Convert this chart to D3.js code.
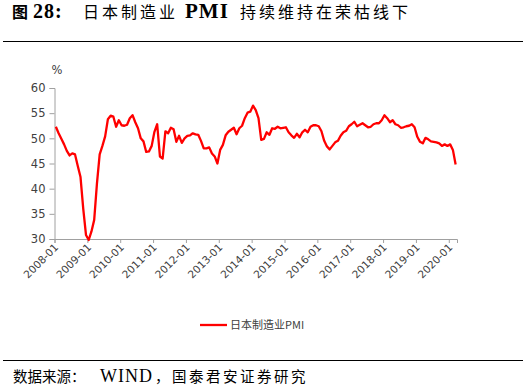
<!DOCTYPE html>
<html>
<head>
<meta charset="utf-8">
<script src="https://cdn.jsdelivr.net/npm/d3@7/dist/d3.min.js"></script>
<style>
  body { margin: 0; background: #fff; }
  svg { display: block; font-family: "Liberation Sans", Arial, sans-serif; }
</style>
</head>
<body>
<div id="chart"></div>
<script>
// monthly Japan manufacturing PMI, 2008-01 .. 2020-03
const PMI_VALUES = [
  52.3, 51.0, 49.9, 48.8, 47.5, 46.6, 47.0, 46.8, 44.5, 42.3, 36.0, 30.8,
  29.8, 31.5, 33.8, 41.0, 46.8, 48.5, 50.4, 53.8, 54.5, 54.3, 52.3, 53.6,
  52.6, 52.5, 52.7, 54.0, 54.6, 53.2, 52.0, 50.0, 49.4, 47.3, 47.4, 48.5,
  51.3, 52.8, 46.4, 46.0, 51.4, 51.0, 52.1, 51.8, 49.3, 50.5, 49.1, 50.0,
  50.5, 50.6, 51.0, 50.8, 50.7, 49.5, 48.0, 48.0, 48.2, 47.0, 46.4, 45.0,
  47.7, 48.7, 50.6, 51.3, 51.7, 52.1, 50.8, 52.0, 52.5, 54.0, 55.1, 55.3,
  56.5, 55.6, 54.0, 49.7, 49.9, 51.2, 50.7, 52.0, 51.9, 52.3, 52.0, 52.1,
  52.2, 51.2, 50.6, 50.1, 50.9, 50.2, 51.2, 51.7, 51.2, 52.3, 52.6, 52.6,
  52.4, 51.4, 49.5, 48.4, 47.8, 48.5, 49.2, 49.5, 50.5, 51.2, 51.5, 52.4,
  52.8, 53.3, 52.4, 52.7, 53.0, 52.6, 52.2, 52.3, 52.8, 53.0, 53.0, 53.6,
  54.6, 54.0, 53.2, 53.6, 52.8, 52.6, 52.1, 52.2, 52.4, 52.5, 52.8, 52.2,
  50.3, 49.3, 49.0, 50.1, 49.8, 49.4, 49.3, 49.2, 49.0, 48.5, 48.8, 48.5,
  48.8, 47.7, 44.8
];
const Y_TICKS = [30, 35, 40, 45, 50, 55, 60];
const X_TICK_LABELS = ["2008-01", "2009-01", "2010-01", "2011-01", "2012-01", "2013-01",
  "2014-01", "2015-01", "2016-01", "2017-01", "2018-01", "2019-01", "2020-01"];
const SERIES_NAME = "日本制造业PMI";

const W = 527, H = 392;
const margin = { top: 88, right: 70, bottom: 153, left: 54.5 };
const width = 457 - margin.left;
const height = 239 - margin.top;
const CJK = '"Noto Sans CJK SC", sans-serif';
const SERIF = '"Liberation Serif", "Times New Roman", serif';

const svg = d3.select("#chart").append("svg")
  .attr("width", W).attr("height", H);

/* -------------------- HEADER / FOOTER -------------------- */
const title = svg.append("text")
  .attr("y", 18)
  .style("font-family", CJK)
  .style("font-size", "16px")
  .style("fill", "#000");
title.append("tspan").attr("x", 12).style("font-weight", "bold").text("图");
title.append("tspan").attr("x", 33).style("font-weight", "bold").style("letter-spacing", "1px")
  .style("font-family", SERIF).style("font-size", "20px").text("28:");
title.append("tspan").attr("x", 83).style("letter-spacing", "3px").text("日本制造业");
title.append("tspan").attr("x", 185).style("font-weight", "bold").style("letter-spacing", "1px")
  .style("font-family", SERIF).style("font-size", "21px").text("PMI");
title.append("tspan").attr("x", 240).style("letter-spacing", "3px").text("持续维持在荣枯线下");

svg.append("line")
  .attr("x1", 3).attr("x2", 523).attr("y1", 41.5).attr("y2", 41.5)
  .style("stroke", "#000").style("stroke-width", 1.2);

svg.append("line")
  .attr("x1", 3).attr("x2", 523).attr("y1", 360.5).attr("y2", 360.5)
  .style("stroke", "#000").style("stroke-width", 1.2);

const source = svg.append("text")
  .attr("y", 382)
  .style("font-family", CJK)
  .style("font-size", "14.5px")
  .style("fill", "#000");
source.append("tspan").attr("x", 13).text("数据来源：");
source.append("tspan").attr("x", 100).style("letter-spacing", "1px")
  .style("font-family", SERIF).style("font-size", "18px").text("WIND");
source.append("tspan").attr("x", 155).style("letter-spacing", "2.5px").text("，国泰君安证券研究");

/* -------------------- SCALES -------------------- */
const g = svg.append("g").attr("transform", `translate(${margin.left}, ${margin.top})`);

const x = d3.scaleLinear().domain([0, PMI_VALUES.length]).range([0, width]);
const y = d3.scaleLinear().domain([30, 60]).range([height, 0]);

const axisColor = "#a0a0a0";
const labelColor = "#404040";

// y axis
const yAxis = g.append("g")
  .call(d3.axisLeft(y).tickValues(Y_TICKS).tickSize(5).tickPadding(4));
yAxis.selectAll("path, line").style("stroke", axisColor);
yAxis.selectAll("text")
  .style("font-size", "11.5px").style("fill", labelColor)
  .style("font-family", '"DejaVu Sans", sans-serif');

g.append("text")
  .attr("x", -3).attr("y", -14)
  .style("font-size", "11.5px").style("fill", labelColor)
  .style("font-family", '"DejaVu Sans", sans-serif')
  .text("%");

// x axis: a tick every 12 months
const xTickIdx = X_TICK_LABELS.map((d, i) => i * 12);
const xAxis = g.append("g")
  .attr("transform", `translate(0, ${height})`)
  .call(d3.axisBottom(x).tickValues(xTickIdx).tickSize(4)
    .tickFormat((d, i) => X_TICK_LABELS[i]));
xAxis.selectAll("path, line").style("stroke", axisColor);
xAxis.selectAll("text")
  .style("font-size", "10.5px").style("fill", labelColor)
  .style("font-family", '"DejaVu Sans", sans-serif')
  .style("text-anchor", "end")
  .attr("dy", 0).attr("y", 0)
  .attr("transform", "translate(4, 9) rotate(-45)");

/* -------------------- LINE -------------------- */
const line = d3.line()
  .x((d, i) => x(i + 0.5))
  .y(d => y(d));

g.append("path")
  .datum(PMI_VALUES)
  .attr("d", line)
  .style("fill", "none")
  .style("stroke", "#ff0000")
  .style("stroke-width", 2.3)
  .style("stroke-linejoin", "round");

/* -------------------- LEGEND -------------------- */
const legend = svg.append("g").attr("transform", "translate(200, 325)");
legend.append("line")
  .attr("x1", 0).attr("x2", 27).attr("y1", 0).attr("y2", 0)
  .style("stroke", "#ff0000").style("stroke-width", 2.3);
legend.append("text")
  .attr("x", 30).attr("y", 4)
  .style("font-family", CJK)
  .style("font-size", "11px").style("fill", labelColor)
  .text(SERIES_NAME);
</script>
</body>
</html>
